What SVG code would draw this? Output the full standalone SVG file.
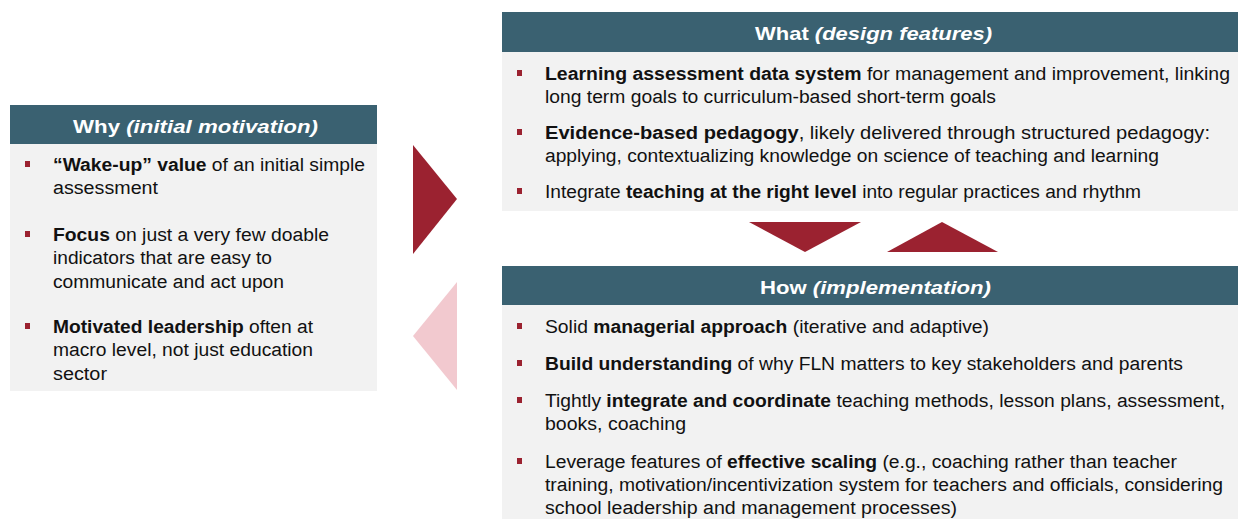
<svg xmlns="http://www.w3.org/2000/svg" width="1238" height="519" viewBox="0 0 1238 519">
<style>
.hdr{fill:#3a6171}
.body{fill:#f2f2f2}
.ht{font-family:"Liberation Sans",Arial,sans-serif;font-size:19px;font-weight:bold;fill:#ffffff}
.t{font-family:"Liberation Sans",Arial,sans-serif;font-size:18px;fill:#111111}
.b{font-weight:bold}
.i{font-style:italic}
.bul{fill:#9b2230}
.arr{fill:#9b2230}
.arrl{fill:#f2c9cf}
</style>
<rect width="1238" height="519" fill="#ffffff"/>
<g id="why">
<rect class="body" x="10" y="144" width="367" height="247"/>
<rect class="hdr" x="10" y="105" width="367" height="39"/>
<text class="ht" x="73" y="133" textLength="245" lengthAdjust="spacingAndGlyphs">Why <tspan class="i">(initial motivation)</tspan></text>
<rect class="bul" x="25" y="161" width="5" height="6"/>
<text class="t" x="53" y="171" textLength="312" lengthAdjust="spacingAndGlyphs"><tspan class="b">“Wake-up” value</tspan> of an initial simple</text>
<text class="t" x="53" y="194" textLength="105" lengthAdjust="spacingAndGlyphs">assessment</text>
<rect class="bul" x="25" y="231" width="5" height="6"/>
<text class="t" x="53" y="241" textLength="276" lengthAdjust="spacingAndGlyphs"><tspan class="b">Focus</tspan> on just a very few doable</text>
<text class="t" x="53" y="264" textLength="219" lengthAdjust="spacingAndGlyphs">indicators that are easy to</text>
<text class="t" x="53" y="288" textLength="231" lengthAdjust="spacingAndGlyphs">communicate and act upon</text>
<rect class="bul" x="25" y="323" width="5" height="6"/>
<text class="t" x="53" y="333" textLength="260" lengthAdjust="spacingAndGlyphs"><tspan class="b">Motivated leadership</tspan> often at</text>
<text class="t" x="53" y="356" textLength="260" lengthAdjust="spacingAndGlyphs">macro level, not just education</text>
<text class="t" x="53" y="380" textLength="54" lengthAdjust="spacingAndGlyphs">sector</text>
</g>
<g id="what">
<rect class="body" x="502" y="52" width="736" height="159"/>
<rect class="hdr" x="502" y="12" width="736" height="40"/>
<text class="ht" x="755" y="40" textLength="237" lengthAdjust="spacingAndGlyphs">What <tspan class="i">(design features)</tspan></text>
<rect class="bul" x="517" y="70" width="5" height="6"/>
<text class="t" x="545" y="80" textLength="685" lengthAdjust="spacingAndGlyphs"><tspan class="b">Learning assessment data system</tspan> for management and improvement, linking</text>
<text class="t" x="545" y="103" textLength="451" lengthAdjust="spacingAndGlyphs">long term goals to curriculum-based short-term goals</text>
<rect class="bul" x="517" y="129" width="5" height="6"/>
<text class="t" x="545" y="139" textLength="665" lengthAdjust="spacingAndGlyphs"><tspan class="b">Evidence-based pedagogy</tspan>, likely delivered through structured pedagogy:</text>
<text class="t" x="545" y="162" textLength="614" lengthAdjust="spacingAndGlyphs">applying, contextualizing knowledge on science of teaching and learning</text>
<rect class="bul" x="517" y="188" width="5" height="6"/>
<text class="t" x="545" y="198" textLength="596" lengthAdjust="spacingAndGlyphs">Integrate <tspan class="b">teaching at the right level</tspan> into regular practices and rhythm</text>
</g>
<g id="how">
<rect class="body" x="502" y="305" width="736" height="214"/>
<rect class="hdr" x="502" y="266" width="736" height="39"/>
<text class="ht" x="760" y="294" textLength="231" lengthAdjust="spacingAndGlyphs">How <tspan class="i">(implementation)</tspan></text>
<rect class="bul" x="517" y="323" width="5" height="6"/>
<text class="t" x="545" y="333" textLength="444" lengthAdjust="spacingAndGlyphs">Solid <tspan class="b">managerial approach</tspan> (iterative and adaptive)</text>
<rect class="bul" x="517" y="360" width="5" height="6"/>
<text class="t" x="545" y="370" textLength="638" lengthAdjust="spacingAndGlyphs"><tspan class="b">Build understanding</tspan> of why FLN matters to key stakeholders and parents</text>
<rect class="bul" x="517" y="397" width="5" height="6"/>
<text class="t" x="545" y="407" textLength="680" lengthAdjust="spacingAndGlyphs">Tightly <tspan class="b">integrate and coordinate</tspan> teaching methods, lesson plans, assessment,</text>
<text class="t" x="545" y="430" textLength="141" lengthAdjust="spacingAndGlyphs">books, coaching</text>
<rect class="bul" x="517" y="458" width="5" height="6"/>
<text class="t" x="545" y="468" textLength="632" lengthAdjust="spacingAndGlyphs">Leverage features of <tspan class="b">effective scaling</tspan> (e.g., coaching rather than teacher</text>
<text class="t" x="545" y="491" textLength="678" lengthAdjust="spacingAndGlyphs">training, motivation/incentivization system for teachers and officials, considering</text>
<text class="t" x="545" y="514" textLength="412" lengthAdjust="spacingAndGlyphs">school leadership and management processes)</text>
</g>
<g id="connectors">
<polygon class="arr" points="413,145 457,199 413,254"/>
<polygon class="arrl" points="457,282 413,336 457,390"/>
<polygon class="arr" points="749,222 861,222 805,252"/>
<polygon class="arr" points="887,252 998,252 942,222"/>
</g>
</svg>
